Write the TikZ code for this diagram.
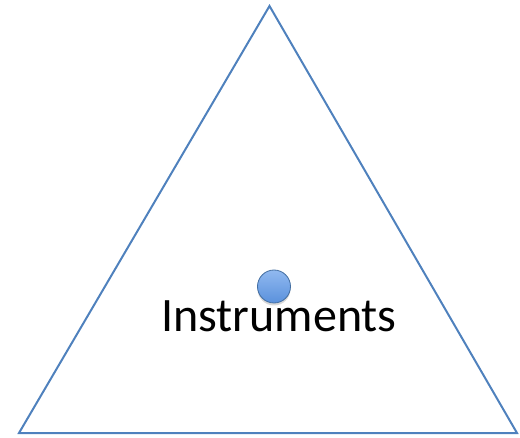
\documentclass[tikz,border=0pt]{standalone}
\usepackage{fontspec}
\setmainfont{Carlito}
\usetikzlibrary{shadows}
\definecolor{acc}{RGB}{79,129,189}
\definecolor{balltop}{RGB}{145,185,240}
\definecolor{ballbot}{RGB}{90,145,220}
\tikzset{
  tri/.style={draw=acc, line width=2pt, line join=miter},
  ball/.style={circle, draw=acc!85!black, line width=0.8pt, top color=balltop, bottom color=ballbot, minimum size=33pt, inner sep=0pt, drop shadow={shadow xshift=0pt, shadow yshift=-2.5pt, opacity=0.3}},
  lbl/.style={font=\fontsize{48}{54}\selectfont, inner sep=0pt, anchor=base}
}
\begin{document}
\begin{tikzpicture}[x=1pt,y=1pt]
\useasboundingbox (0,0) rectangle (520,437);
\coordinate (A) at (269.5,431);
\coordinate (B) at (19,4);
\coordinate (C) at (517,4);
\draw[tri] (A) -- (B) -- (C) -- cycle;
\node[ball] (dot) at (274,150.5) {};
\node[lbl] (txt) at (279,105) {Instruments};
\end{tikzpicture}
\end{document}
